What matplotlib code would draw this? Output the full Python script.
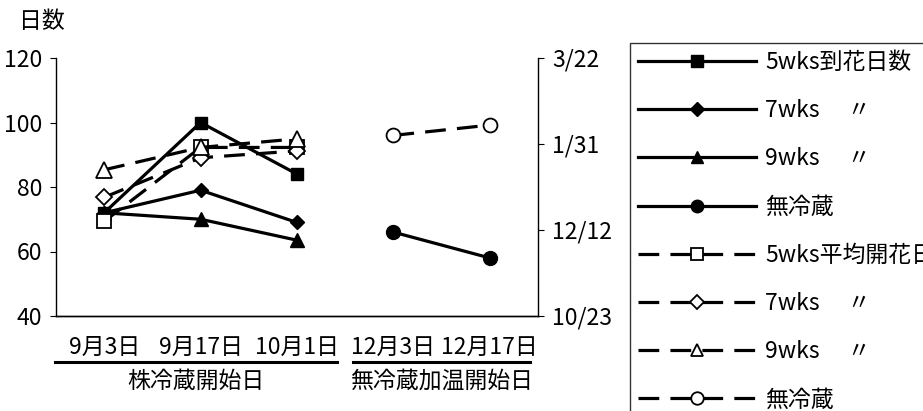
import matplotlib.pyplot as plt
import matplotlib.dates as mdates
import pandas as pd
from matplotlib.lines import Line2D

plt.rcParams['font.family'] = ['Noto Sans CJK JP', 'DejaVu Sans']
plt.rcParams['font.size'] = 16.5

# --- datos ---
fechas = ['9月3日', '9月17日', '10月1日', '12月3日', '12月17日']
grupos = ['株冷蔵開始日', '無冷蔵加温開始日']

# 到花日数 (eje izquierdo)
dias_5wks = [72, 100, 84, None, None]
dias_7wks = [72, 79, 69, None, None]
dias_9wks = [72, 70, 63.5, None, None]
dias_sin = [None, None, None, 66, 58]

# 平均開花日 (eje derecho)
flor_5wks = ['2001-12-17', '2002-01-29', '2002-01-29', None, None]
flor_7wks = ['2001-12-31', '2002-01-23', '2002-01-27', None, None]
flor_9wks = ['2002-01-16', '2002-01-29', '2002-02-03', None, None]
flor_sin = [None, None, None, '2002-02-05', '2002-02-11']

ticks_dcha = ['2001-10-23', '2001-12-12', '2002-01-31', '2002-03-22']

fig = plt.figure(figsize=(9.23, 4.11), dpi=100)
ax = fig.add_axes([56 / 923, 1 - 316 / 411, (538 - 56) / 923, (316 - 58) / 411])
ax2 = ax.twinx()

x = list(range(len(fechas)))
lw = 2.3
dash = (6.5, 3.5)


def serie(v):
    return [float('nan') if a is None else a for a in v]


def serie_fecha(v):
    return pd.to_datetime(pd.Series(v))


ax.plot(x, serie(dias_5wks), '-', color='k', lw=lw, marker='s', ms=9, mfc='k', zorder=3)
ax.plot(x, serie(dias_7wks), '-', color='k', lw=lw, marker='D', ms=7.5, mfc='k', zorder=3)
ax.plot(x, serie(dias_9wks), '-', color='k', lw=lw, marker='^', ms=10, mfc='k', zorder=3)
ax.plot(x, serie(dias_sin), '-', color='k', lw=lw, marker='o', ms=10, mfc='k', zorder=3)

estilo_d = dict(color='k', lw=lw, dashes=dash, mfc='white', mec='k', mew=1.3)
ax2.plot(x, serie_fecha(flor_5wks), marker='s', ms=10, **estilo_d)
ax2.plot(x, serie_fecha(flor_7wks), marker='D', ms=8, **estilo_d)
ax2.plot(x, serie_fecha(flor_9wks), marker='^', ms=11, **estilo_d)
ax2.plot(x, serie_fecha(flor_sin), marker='o', ms=10, **estilo_d)

ax.set_xlim(-0.5, len(fechas) - 0.5)
ax.set_ylim(40, 120)
ax.set_yticks([40, 60, 80, 100, 120])
td = pd.to_datetime(pd.Series(ticks_dcha))
ax2.set_ylim(td.iloc[0], td.iloc[-1])
ax2.set_yticks(list(td))
ax2.yaxis.set_major_formatter(plt.FuncFormatter(
    lambda v, p: f"{mdates.num2date(v).month}/{mdates.num2date(v).day}"))

for a in (ax, ax2):
    a.spines['top'].set_visible(False)
    for s in a.spines.values():
        s.set_linewidth(1.0)
ax.spines['right'].set_visible(False)
ax2.spines['left'].set_visible(False)
ax.tick_params(axis='y', direction='out', length=4, pad=6)
ax2.tick_params(axis='y', direction='out', length=4, pad=6)
ax.set_xticks(x)
ax.set_xticklabels(fechas)
ax.tick_params(axis='x', length=0, pad=14)

fig.text(42 / 923, 1 - 21 / 411, '日数', ha='center', va='center')

# barras de grupo bajo las fechas
for (x0, x1), g in zip([(55, 337), (353, 530)], grupos):
    fig.add_artist(Line2D([x0 / 923, x1 / 923], [1 - 362 / 411] * 2, color='k', lw=2.2))
    fig.text((x0 + x1) / 2 / 923, 1 - 381 / 411, g, ha='center', va='center')

# leyenda
handles = [
    Line2D([], [], color='k', lw=lw, marker='s', ms=8, mfc='k'),
    Line2D([], [], color='k', lw=lw, marker='D', ms=7, mfc='k'),
    Line2D([], [], color='k', lw=lw, marker='^', ms=9, mfc='k'),
    Line2D([], [], color='k', lw=lw, marker='o', ms=9, mfc='k'),
    Line2D([], [], marker='s', ms=8, **estilo_d),
    Line2D([], [], marker='D', ms=7, **estilo_d),
    Line2D([], [], marker='^', ms=9, **estilo_d),
    Line2D([], [], marker='o', ms=9, **estilo_d),
]
etiquetas = ['5wks到花日数', '7wks\u3000 〃', '9wks\u3000 〃', '無冷蔵',
             '5wks平均開花日', '7wks\u3000 〃', '9wks\u3000 〃', '無冷蔵']
leg = fig.legend(handles, etiquetas, loc='upper left',
                 bbox_to_anchor=(630 / 923, 1 - 43 / 411), frameon=True, fancybox=False,
                 edgecolor='k', handlelength=5.15, handletextpad=0.4,
                 labelspacing=1.10, borderpad=0.35, borderaxespad=0)
leg.get_frame().set_linewidth(1.0)

fig.savefig('out.png', dpi=100)
